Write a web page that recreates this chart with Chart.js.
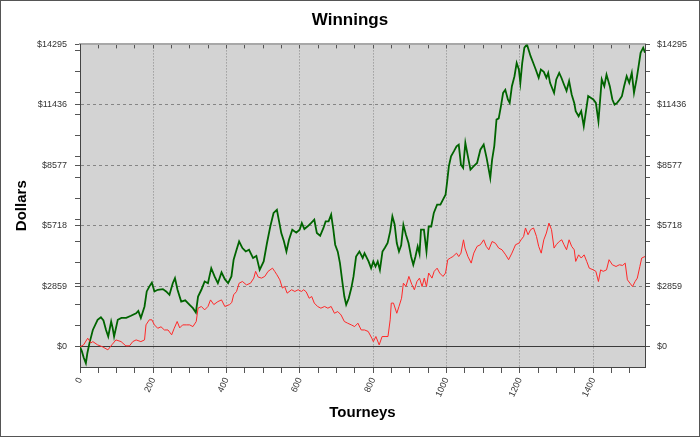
<!DOCTYPE html>
<html>
<head>
<meta charset="utf-8">
<script src="https://cdn.jsdelivr.net/npm/chart.js@4.4.0/dist/chart.umd.min.js"></script>
<style>
  html, body { margin: 0; padding: 0; background: #fff; }
</style>
</head>
<body>
<canvas id="myChart" width="700" height="437"></canvas>
<script>
// dados
const tourneysGreen = [0, 5, 10, 16, 20, 26, 35, 48, 57, 64, 71, 77, 85, 89, 93, 103, 113, 126, 139, 153, 159, 166, 176, 182, 189, 196, 203, 212, 226, 235, 244, 253, 259, 266, 276, 287, 299, 308, 316, 322, 331, 340, 349, 358, 367, 376, 386, 395, 404, 413, 419, 427, 434, 443, 452, 461, 472, 481, 490, 501, 510, 519, 528, 537, 543, 549, 556, 563, 570, 579, 590, 599, 605, 612, 621, 630, 639, 646, 655, 664, 670, 678, 685, 691, 696, 703, 709, 716, 721, 726, 733, 740, 746, 753, 762, 771, 776, 787, 794, 800, 806, 812, 818, 825, 832, 839, 846, 852, 858, 864, 870, 876, 882, 889, 896, 903, 909, 915, 921, 926, 930, 938, 945, 951, 958, 965, 974, 983, 990, 997, 1001, 1006, 1012, 1020, 1027, 1033, 1039, 1045, 1051, 1058, 1065, 1074, 1083, 1092, 1101, 1109, 1114, 1119, 1124, 1130, 1136, 1142, 1148, 1154, 1160, 1167, 1172, 1178, 1185, 1191, 1197, 1201, 1206, 1212, 1219, 1229, 1236, 1243, 1251, 1257, 1265, 1272, 1277, 1282, 1293, 1299, 1307, 1313, 1320, 1327, 1334, 1341, 1348, 1352, 1360, 1367, 1374, 1380, 1386, 1393, 1400, 1407, 1414, 1418, 1423, 1430, 1436, 1445, 1452, 1458, 1465, 1472, 1478, 1484, 1491, 1498, 1505, 1511, 1518, 1525, 1529, 1536, 1541];
const dollarsGreen = [0, -200, -500, -770, -300, 190, 800, 1280, 1400, 1250, 800, 490, 1200, 900, 490, 1280, 1370, 1370, 1470, 1590, 1700, 1370, 1910, 2620, 2850, 3040, 2620, 2700, 2730, 2620, 2460, 3010, 3250, 2700, 2140, 2200, 1990, 1830, 1620, 2380, 2700, 3090, 3010, 3720, 3330, 3010, 3520, 3200, 3010, 3330, 4120, 4590, 4980, 4670, 4510, 4590, 4200, 4300, 3640, 4040, 4910, 5690, 6330, 6480, 5930, 5380, 5000, 4510, 5060, 5540, 5400, 5540, 5850, 5570, 5700, 5850, 6010, 5380, 5250, 5620, 5930, 5930, 6250, 5540, 4830, 4500, 3960, 3010, 2380, 1990, 2300, 2780, 3330, 4270, 4510, 4200, 4430, 4040, 3720, 4040, 3800, 4040, 3640, 4510, 4700, 4910, 5460, 6170, 5800, 4910, 4510, 4800, 5770, 5300, 4910, 4270, 3880, 4270, 4750, 4400, 5540, 5540, 4510, 5690, 5690, 6330, 6720, 6720, 6960, 7190, 7750, 8530, 9010, 9250, 9480, 9560, 8610, 8460, 9640, 9000, 8380, 8540, 8690, 9320, 9560, 8930, 8460, 7980, 8850, 9500, 10740, 10800, 11370, 12000, 12150, 11690, 11530, 12320, 12790, 13420, 13110, 12480, 13400, 14140, 14295, 13740, 13430, 13110, 12720, 13110, 13000, 12720, 12950, 12480, 12000, 12640, 12950, 12720, 12400, 12100, 12560, 11930, 11530, 11140, 10900, 11140, 10430, 11140, 11850, 11770, 11690, 11530, 10660, 11530, 12640, 12320, 12870, 12320, 11690, 11450, 11530, 11690, 11850, 12320, 12790, 12480, 12950, 12000, 12640, 13430, 13900, 14140, 13900];

const tourneysRed = [0, 10, 21, 30, 35, 48, 62, 76, 87, 98, 112, 125, 135, 144, 153, 166, 176, 180, 189, 196, 203, 212, 221, 230, 240, 250, 257, 265, 272, 280, 290, 299, 308, 317, 322, 331, 340, 349, 356, 365, 376, 386, 395, 408, 414, 419, 427, 434, 443, 454, 465, 474, 479, 486, 495, 504, 513, 525, 531, 537, 545, 552, 558, 565, 577, 586, 595, 604, 610, 617, 625, 632, 639, 648, 657, 667, 676, 685, 694, 703, 712, 721, 730, 740, 749, 758, 767, 776, 786, 796, 800, 807, 816, 824, 832, 840, 846, 849, 855, 864, 870, 877, 882, 889, 897, 905, 912, 919, 926, 933, 939, 945, 951, 960, 966, 974, 981, 990, 997, 1003, 1010, 1017, 1027, 1033, 1039, 1046, 1050, 1058, 1067, 1074, 1083, 1092, 1101, 1108, 1115, 1124, 1133, 1142, 1151, 1161, 1169, 1178, 1188, 1197, 1203, 1210, 1215, 1222, 1229, 1237, 1245, 1251, 1258, 1265, 1272, 1279, 1286, 1293, 1299, 1307, 1314, 1320, 1327, 1334, 1341, 1348, 1352, 1360, 1367, 1375, 1382, 1389, 1400, 1407, 1414, 1420, 1427, 1436, 1443, 1452, 1462, 1471, 1480, 1487, 1493, 1500, 1507, 1514, 1520, 1527, 1532, 1541];
const dollarsRed = [0, 100, 410, 190, 250, 95, 0, -140, 100, 330, 250, 50, 50, 250, 330, 250, 330, 1040, 1280, 1280, 1040, 880, 950, 800, 800, 570, 880, 1200, 900, 1040, 1040, 1040, 960, 1200, 1830, 1910, 1750, 1910, 2220, 2000, 2140, 2220, 1910, 2000, 2100, 2460, 2620, 3010, 3090, 2930, 3010, 3250, 3570, 3300, 3250, 3330, 3570, 3720, 3570, 3410, 3170, 2780, 2860, 2540, 2700, 2620, 2700, 2620, 2700, 2600, 2300, 2380, 2070, 1910, 1830, 1910, 1830, 1910, 1590, 1670, 1510, 1200, 1120, 1040, 960, 1120, 800, 800, 730, 410, 250, 490, 95, 490, 490, 490, 1280, 2070, 2070, 1590, 1910, 2300, 3010, 2860, 3330, 2950, 2700, 3090, 3250, 2850, 3250, 2850, 3490, 3250, 3570, 3720, 3490, 3330, 3490, 4120, 4200, 4270, 4430, 4270, 4430, 5060, 4670, 4270, 3960, 4430, 4750, 4830, 5060, 4750, 4590, 4980, 4900, 4670, 4590, 4350, 4120, 4430, 4830, 4900, 5060, 5220, 5620, 5300, 5540, 5620, 5220, 4750, 4430, 5060, 5380, 5850, 5540, 4670, 4830, 4980, 5060, 4830, 4590, 5060, 4750, 4590, 4040, 4350, 4200, 4350, 4040, 3720, 3640, 3570, 3090, 3640, 3570, 3640, 4120, 3880, 3800, 3880, 3850, 3960, 3170, 3010, 2850, 3090, 3250, 3800, 4200, 4270];

// eixos
const yMajorTicks = [0, 2859, 5718, 8577, 11436, 14295];
const yMajorLabels = ['$0', '$2859', '$5718', '$8577', '$11436', '$14295'];
const yMinorTicks = [1000, 2000, 3000, 4000, 5000, 6000, 7000, 8000, 9000, 10000, 11000, 12000, 13000, 14000];
const xMajorTicks = [0, 200, 400, 600, 800, 1000, 1200, 1400];

const yMin = -950, yMax = 14295;
const xMin = 0, xMax = 1541;

const xAllTicks = [];
for (let v = 0; v <= 1500; v += 50) xAllTicks.push(v);
const yAllTicks = yMinorTicks.concat(yMajorTicks).sort((a, b) => a - b);

const isMajorY = v => yMajorTicks.indexOf(v) >= 0;
const isMajorX = v => xMajorTicks.indexOf(v) >= 0;

const tickFont = { family: 'Arial, "Liberation Sans"', size: 9 };

const bgPlugin = {
  id: 'bg',
  beforeDraw(chart) {
    const { ctx, chartArea } = chart;
    ctx.save();
    ctx.fillStyle = '#ffffff';
    ctx.fillRect(0, 0, chart.width, chart.height);
    ctx.fillStyle = '#d3d3d3';
    ctx.fillRect(chartArea.left, chartArea.top, chartArea.right - chartArea.left, chartArea.bottom - chartArea.top);
    ctx.restore();
  },
  afterDraw(chart) {
    const ctx = chart.ctx;
    ctx.save();
    ctx.strokeStyle = '#555555';
    ctx.lineWidth = 1;
    ctx.strokeRect(0.5, 0.5, chart.width - 1, chart.height - 1);
    ctx.restore();
  }
};

const ctx = document.getElementById('myChart');
var myChart = new Chart(ctx, {
  type: 'line',
  data: {
    datasets: [
      {
        label: 'red',
        data: tourneysRed.map((t, i) => ({ x: t, y: dollarsRed[i] })),
        borderColor: 'rgb(255, 40, 40)',
        borderWidth: 1,
        pointRadius: 0,
        tension: 0
      },
      {
        label: 'green',
        data: tourneysGreen.map((t, i) => ({ x: t, y: dollarsGreen[i] })),
        borderColor: 'rgb(0, 100, 0)',
        borderWidth: 1.8,
        pointRadius: 0,
        tension: 0
      }
    ]
  },
  options: {
    responsive: false,
    animation: false,
    devicePixelRatio: 1,
    layout: { padding: 0 },
    plugins: {
      legend: { display: false },
      tooltip: { enabled: false },
      title: {
        display: true,
        text: 'Winnings',
        color: '#000',
        font: { family: 'Arial, "Liberation Sans"', size: 17, weight: 'bold' },
        padding: { top: 10, bottom: 14 }
      }
    },
    scales: {
      x: {
        type: 'linear',
        position: 'bottom',
        min: xMin,
        max: xMax,
        afterBuildTicks: s => { s.ticks = xAllTicks.map(v => ({ value: v })); },
        afterFit: s => { s.height = 70; },
        ticks: {
          autoSkip: false,
          minRotation: 65,
          maxRotation: 65,
          color: '#333',
          font: tickFont,
          padding: 3,
          callback: v => isMajorX(v) ? String(v) : ''
        },
        grid: {
          color: c => (c.tick && isMajorX(c.tick.value)) ? '#858585' : 'rgba(0,0,0,0)',
          lineWidth: 1,
          tickColor: '#555',
          tickLength: 6
        },
        border: {
          display: true,
          color: '#444',
          width: 1,
          dash: c => [1, 2]
        },
        title: {
          display: true,
          text: 'Tourneys',
          color: '#000',
          font: { family: 'Arial, "Liberation Sans"', size: 15, weight: 'bold' },
          padding: { top: 0, bottom: 15 }
        }
      },
      x2: {
        type: 'linear',
        position: 'top',
        min: xMin,
        max: xMax,
        afterBuildTicks: s => { s.ticks = xAllTicks.map(v => ({ value: v })); },
        afterFit: s => { s.height = 0; },
        ticks: { display: false },
        grid: {
          drawOnChartArea: false,
          tickColor: '#555',
          tickLength: -4
        },
        border: { display: true, color: '#a8a8a8', width: 2 }
      },
      y: {
        type: 'linear',
        position: 'left',
        min: yMin,
        max: yMax,
        afterBuildTicks: s => { s.ticks = yAllTicks.map(v => ({ value: v })); },
        afterFit: s => { s.width = 80; },
        ticks: {
          autoSkip: false,
          color: '#333',
          font: tickFont,
          padding: 8,
          callback: v => isMajorY(v) ? yMajorLabels[yMajorTicks.indexOf(v)] : ''
        },
        grid: {
          color: c => {
            if (!c.tick) return 'rgba(0,0,0,0)';
            if (c.tick.value === 0) return '#3a3a3a';
            return isMajorY(c.tick.value) ? '#858585' : 'rgba(0,0,0,0)';
          },
          lineWidth: 1,
          tickColor: '#555',
          tickLength: 5
        },
        border: {
          display: true,
          color: '#444',
          width: 1,
          dash: c => (c.tick && c.tick.value !== 0) ? [3, 3] : []
        },
        title: {
          display: true,
          text: 'Dollars',
          color: '#000',
          font: { family: 'Arial, "Liberation Sans"', size: 15, weight: 'bold' },
          padding: { top: 13, bottom: 0 }
        }
      },
      y2: {
        type: 'linear',
        position: 'right',
        min: yMin,
        max: yMax,
        afterBuildTicks: s => { s.ticks = yAllTicks.map(v => ({ value: v })); },
        afterFit: s => { s.width = 55; },
        ticks: {
          autoSkip: false,
          color: '#333',
          font: tickFont,
          padding: 7,
          callback: v => isMajorY(v) ? yMajorLabels[yMajorTicks.indexOf(v)] : ''
        },
        grid: {
          drawOnChartArea: false,
          tickColor: '#555',
          tickLength: 5
        },
        border: { display: true, color: '#444', width: 1 }
      }
    }
  },
  plugins: [bgPlugin]
});
</script>
</body>
</html>
